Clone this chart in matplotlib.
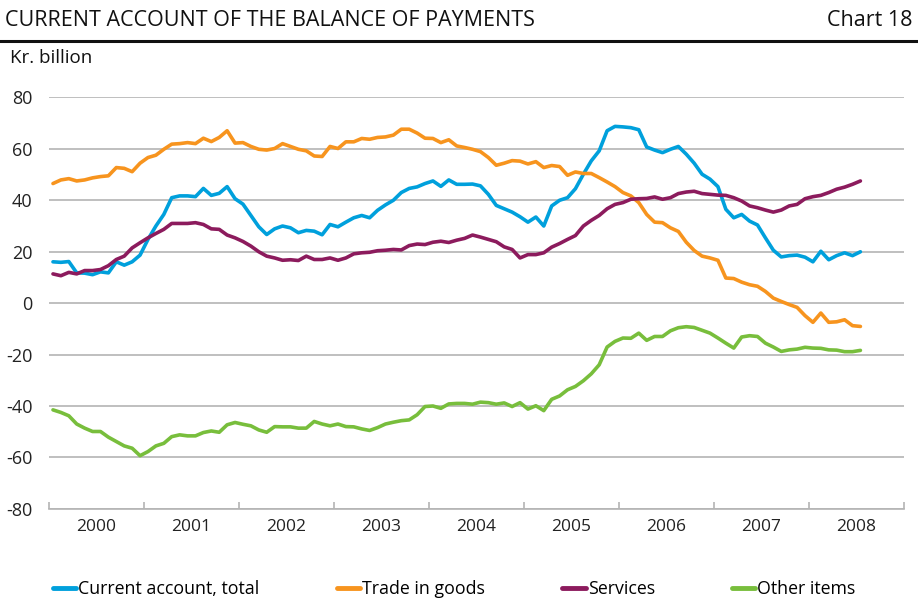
import numpy as np
import matplotlib
matplotlib.use('Agg')
import matplotlib.pyplot as plt

# ---------- data (Kr. billion, monthly Jan 2000 - Jul 2008) ----------
start_year = 2000
years = list(range(2000, 2009))

current_total = [
    16.0, 15.8, 16.1, 11.7, 11.6, 11.0, 12.1, 11.7, 16.0, 14.7, 16.0, 18.6,
    24.7, 29.9, 34.4, 40.9, 41.6, 41.6, 41.3, 44.5, 41.8, 42.6, 45.2, 40.5,
    38.4, 34.0, 29.6, 26.6, 28.8, 29.9, 29.2, 27.3, 28.2, 27.9, 26.5, 30.5,
    29.6, 31.4, 33.1, 34.0, 33.1, 36.0, 38.1, 39.9, 42.9, 44.5, 45.1, 46.4,
    47.4, 45.3, 47.8, 46.1, 46.1, 46.2, 45.5, 42.2, 37.9, 36.6, 35.3, 33.5,
    31.4, 33.4, 29.9, 37.7, 39.9, 40.9, 44.4, 50.0, 55.2, 59.1, 66.9, 68.6,
    68.4, 68.1, 67.3, 60.6, 59.4, 58.4, 59.7, 60.8, 57.8, 54.3, 50.0, 48.1,
    45.2, 36.4, 33.1, 34.4, 31.8, 30.3, 25.3, 20.5, 17.9, 18.4, 18.6, 17.8,
    16.0, 20.1, 16.8, 18.4, 19.5, 18.4, 19.9]

trade_goods = [
    46.4, 47.8, 48.3, 47.4, 47.8, 48.6, 49.1, 49.4, 52.6, 52.3, 51.0, 54.3,
    56.5, 57.4, 59.7, 61.7, 61.9, 62.3, 61.9, 64.0, 62.7, 64.3, 66.9, 62.1,
    62.3, 60.8, 59.7, 59.4, 60.0, 61.9, 60.8, 59.7, 59.1, 57.1, 56.9, 60.8,
    60.0, 62.6, 62.6, 63.9, 63.6, 64.3, 64.5, 65.2, 67.5, 67.5, 66.0, 64.0,
    63.9, 62.3, 63.4, 61.0, 60.4, 59.7, 58.8, 56.5, 53.5, 54.3, 55.3, 55.1,
    54.0, 54.9, 52.6, 53.4, 53.0, 49.6, 50.9, 50.3, 50.3, 48.7, 47.0, 45.2,
    42.9, 41.6, 39.0, 34.4, 31.4, 31.2, 29.2, 27.8, 23.6, 20.4, 18.2, 17.5,
    16.6, 9.7, 9.5, 8.1, 7.1, 6.5, 4.5, 1.9, 0.6, -0.6, -1.7, -4.9,
    -7.5, -3.9, -7.5, -7.3, -6.5, -8.8, -9.1]

services = [
    11.3, 10.6, 11.9, 11.3, 12.6, 12.6, 13.0, 14.5, 16.9, 18.2, 21.4, 23.4,
    25.3, 27.0, 28.6, 30.9, 30.9, 30.9, 31.2, 30.5, 28.8, 28.6, 26.4, 25.3,
    23.9, 22.1, 19.9, 18.2, 17.5, 16.6, 16.8, 16.5, 18.2, 16.9, 16.9, 17.5,
    16.6, 17.5, 19.1, 19.5, 19.7, 20.3, 20.5, 20.8, 20.6, 22.3, 22.9, 22.7,
    23.6, 24.0, 23.5, 24.4, 25.1, 26.4, 25.6, 24.7, 23.8, 21.8, 20.8, 17.5,
    18.8, 18.8, 19.5, 21.7, 23.1, 24.7, 26.2, 29.9, 32.1, 34.0, 36.6, 38.3,
    39.0, 40.3, 40.5, 40.6, 41.2, 40.3, 40.9, 42.5, 43.1, 43.4, 42.5, 42.2,
    41.9, 41.8, 40.9, 39.6, 37.7, 37.0, 36.1, 35.3, 36.1, 37.7, 38.3, 40.5,
    41.3, 41.8, 42.9, 44.2, 45.0, 46.1, 47.4]

other_items = [
    -41.5, -42.5, -43.8, -47.0, -48.6, -49.9, -49.9, -52.1, -53.8, -55.5, -56.4, -59.3,
    -57.7, -55.5, -54.5, -51.9, -51.2, -51.6, -51.6, -50.3, -49.7, -50.2, -47.3, -46.4,
    -47.1, -47.7, -49.3, -50.2, -48.0, -48.1, -48.1, -48.6, -48.6, -46.0, -47.0, -47.7,
    -47.0, -48.0, -48.1, -48.9, -49.5, -48.4, -47.0, -46.3, -45.7, -45.4, -43.4, -40.2,
    -40.0, -40.9, -39.2, -39.0, -39.0, -39.3, -38.5, -38.7, -39.3, -38.8, -40.2, -38.7,
    -41.2, -39.9, -41.8, -37.4, -36.1, -33.7, -32.4, -30.2, -27.5, -24.0, -17.1, -14.9,
    -13.6, -13.7, -11.7, -14.5, -13.0, -13.0, -10.8, -9.6, -9.2, -9.5, -10.6, -11.7,
    -13.6, -15.6, -17.5, -13.2, -12.7, -13.0, -15.6, -17.1, -18.8, -18.2, -17.9, -17.2,
    -17.5, -17.6, -18.2, -18.3, -18.9, -18.9, -18.4]

series_labels = ['Current account, total', 'Trade in goods', 'Services', 'Other items']
series_colors = ['#00a0dc', '#f7941e', '#8c1b5d', '#78be3c']

# ---------- plot ----------
plt.rcParams['font.family'] = ['Open Sans', 'DejaVu Sans']
plt.rcParams['axes.unicode_minus'] = False  # plain hyphen like the original
GRID = '#b4b4b4'

fig = plt.figure(figsize=(9.18, 6.03), dpi=100)
ax = fig.add_axes([0.0534, 0.1559, 0.9313, 0.6832])

t = start_year + (np.arange(len(current_total)) + 0.5) / 12
for vals, lab, col in zip([current_total, trade_goods, services, other_items],
                          series_labels, series_colors):
    ax.plot(t, vals, color=col, lw=2.6, label=lab, solid_capstyle='round',
            solid_joinstyle='round')

ax.set_xlim(2000, 2009)
ax.set_ylim(-80, 80)
ax.set_yticks(range(-80, 81, 20))
ax.yaxis.grid(True, color=GRID, lw=1.2)
ax.set_axisbelow(True)
for s in ['top', 'right', 'left']:
    ax.spines[s].set_visible(False)
ax.spines['bottom'].set_color(GRID)
ax.spines['bottom'].set_linewidth(1.2)
ax.tick_params(axis='y', length=0, labelsize=13, pad=12, colors='#222222')

# year boundaries as tick marks, year names in the middle
ax.set_xticks(range(2000, 2010))
ax.set_xticklabels([])
ax.set_xticks([y + 0.5 for y in years], minor=True)
ax.set_xticklabels([str(y) for y in years], minor=True)
ax.tick_params(axis='x', which='major', direction='in', length=5, color=GRID, width=1.2)
ax.tick_params(axis='x', which='minor', length=0, labelsize=12.5, pad=7, colors='#222222')

# ---------- header ----------
fig.text(0.005, 0.966, 'CURRENT ACCOUNT OF THE BALANCE OF PAYMENTS', fontsize=15.5,
         va='center', ha='left', color='#111111')
fig.text(0.994, 0.966, 'Chart 18', fontsize=15.5, va='center', ha='right', color='#111111')
fig.add_artist(plt.Line2D([0, 1], [0.932, 0.932], color='#111111', lw=2.2))
fig.text(0.011, 0.904, 'Kr. billion', fontsize=13.5, va='center', ha='left', color='#111111')

fig.legend(loc='center', bbox_to_anchor=(0.495, 0.023), ncol=4, frameon=False,
           fontsize=12.8, handlelength=1.3, handletextpad=0.12, columnspacing=4.35)
for line in fig.legends[0].get_lines():
    line.set_linewidth(3.5)

fig.savefig('out.png', dpi=100)
